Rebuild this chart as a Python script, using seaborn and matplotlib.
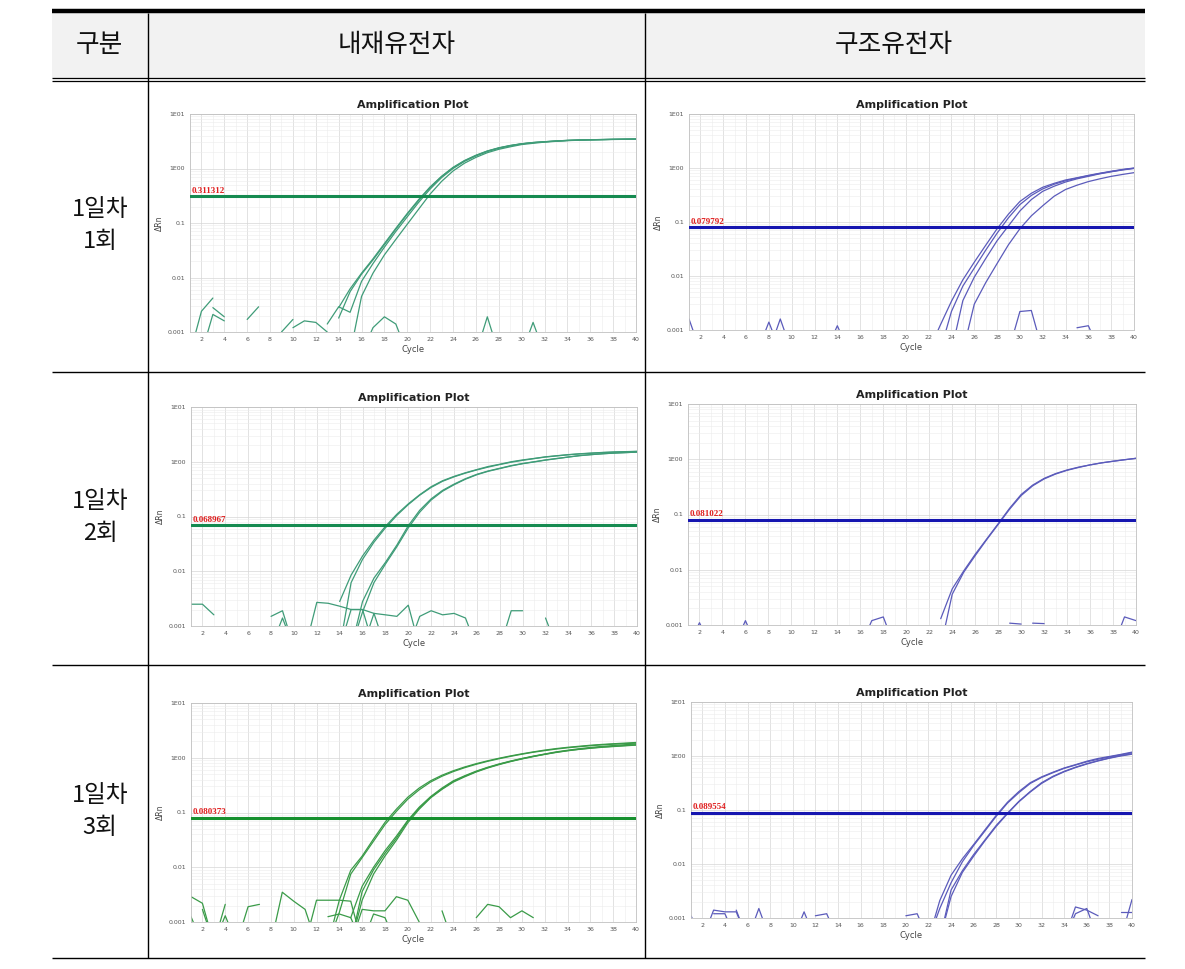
import numpy as np
import pandas as pd
import matplotlib
matplotlib.use("Agg")
import matplotlib.pyplot as plt
import seaborn as sns
from matplotlib.patches import Rectangle
from matplotlib.ticker import FixedLocator, LogLocator, NullFormatter

# ---------------- data ----------------
LOW = 0.0004  # below detection floor (drawn off the bottom of the axis)

header_labels = ["구분", "내재유전자", "구조유전자"]
row_labels = ["1일차\n1회", "1일차\n2회", "1일차\n3회"]
y_tick_values = [0.001, 0.01, 0.1, 1, 10]
y_tick_labels = ["0.001", "0.01", "0.1", "1E00", "1E01"]
x_tick_values = list(range(2, 41, 2))

thresholds = [0.311312, 0.079792, 0.068967, 0.081022, 0.080373, 0.089554]
threshold_labels = ["0.311312", "0.079792", "0.068967", "0.081022", "0.080373", "0.089554"]

# panel 1: 내재유전자, 1회
p1_amp = [
    (14, [0.0028, 0.0062, 0.012, 0.022, 0.042, 0.08, 0.15, 0.27, 0.46, 0.72, 1.05, 1.4, 1.75, 2.1,
          2.4, 2.65, 2.85, 3.0, 3.1, 3.2, 3.28, 3.33, 3.37, 3.4, 3.43, 3.45, 3.47]),
    (14, [0.0018, 0.0055, 0.0115, 0.021, 0.04, 0.077, 0.145, 0.26, 0.45, 0.71, 1.03, 1.38, 1.73, 2.08,
          2.38, 2.63, 2.84, 2.99, 3.1, 3.2, 3.28, 3.33, 3.37, 3.4, 3.43, 3.45, 3.47]),
    (13, [0.0014, 0.0029, 0.0023, 0.0085, 0.018, 0.036, 0.07, 0.13, 0.24, 0.42, 0.68, 1.0, 1.35, 1.7,
          2.05, 2.35, 2.6, 2.82, 2.98, 3.08, 3.18, 3.26, 3.32, 3.36, 3.39, 3.42, 3.44, 3.46]),
    (15, [LOW, 0.0045, 0.012, 0.026, 0.05, 0.095, 0.18, 0.34, 0.58, 0.9, 1.25, 1.6, 1.95, 2.25, 2.5,
          2.75, 2.9, 3.05, 3.15, 3.25, 3.3, 3.35, 3.38, 3.41, 3.43, 3.45]),
]
p1_noise = [
    (1, [LOW, 0.0024, 0.0042]),
    (2, [LOW, 0.0021, 0.0016]),
    (3, [0.0028, 0.0019]),
    (6, [0.0017, 0.0029]),
    (9, [0.001, 0.0017]),
    (10, [0.0012, 0.0016, 0.0015, 0.001]),
    (16, [LOW, 0.0012, 0.0019, 0.0014, LOW]),
    (26, [LOW, 0.0019, LOW]),
    (30, [LOW, 0.0015, LOW]),
]

# panel 2: 구조유전자, 1회
p2_amp = [
    (22, [LOW, 0.0012, 0.0034, 0.0085, 0.018, 0.037, 0.075, 0.14, 0.24, 0.34, 0.44, 0.52, 0.6, 0.66,
          0.73, 0.8, 0.87, 0.94, 1.0]),
    (23, [LOW, 0.0022, 0.0065, 0.014, 0.03, 0.062, 0.12, 0.21, 0.31, 0.41, 0.5, 0.58, 0.65, 0.72,
          0.79, 0.86, 0.93, 0.99]),
    (24, [LOW, 0.0035, 0.0095, 0.021, 0.045, 0.085, 0.16, 0.26, 0.37, 0.46, 0.55, 0.63, 0.7, 0.78,
          0.85, 0.92, 0.98]),
    (25, [LOW, 0.003, 0.0075, 0.017, 0.038, 0.075, 0.13, 0.2, 0.3, 0.4, 0.48, 0.56, 0.63, 0.7,
          0.76, 0.82]),
]
p2_noise = [
    (1, [0.0016, LOW]),
    (7, [LOW, 0.0014, LOW]),
    (8, [LOW, 0.0016, LOW]),
    (13, [LOW, 0.0012, LOW]),
    (29, [LOW, 0.0022, 0.0023, LOW]),
    (35, [0.0011, 0.0012, LOW]),
]

# panel 3: 내재유전자, 2회
p3_amp = [
    (14, [0.0028, 0.0085, 0.019, 0.037, 0.066, 0.11, 0.17, 0.25, 0.35, 0.45, 0.54, 0.63, 0.72, 0.82,
          0.9, 1.0, 1.08, 1.15, 1.23, 1.29, 1.35, 1.4, 1.44, 1.48, 1.51, 1.53, 1.55]),
    (14, [LOW, 0.0062, 0.0165, 0.034, 0.062, 0.105, 0.165, 0.245, 0.34, 0.44, 0.53, 0.62, 0.71, 0.8,
          0.89, 0.98, 1.06, 1.14, 1.22, 1.28, 1.34, 1.39, 1.43, 1.47, 1.5, 1.52, 1.54]),
    (15, [LOW, 0.0028, 0.0075, 0.0145, 0.03, 0.068, 0.13, 0.21, 0.3, 0.39, 0.49, 0.59, 0.68, 0.76,
          0.85, 0.93, 1.0, 1.08, 1.15, 1.22, 1.3, 1.35, 1.4, 1.44, 1.47, 1.5]),
    (15, [LOW, 0.0018, 0.0062, 0.0135, 0.028, 0.062, 0.12, 0.2, 0.29, 0.38, 0.48, 0.58, 0.67, 0.75,
          0.84, 0.92, 0.99, 1.07, 1.14, 1.22, 1.29, 1.35, 1.4, 1.44, 1.47, 1.5]),
]
p3_noise = [
    (1, [0.0025, 0.0025, 0.0016]),
    (8, [0.0015, 0.0019, LOW]),
    (8, [LOW, 0.0014, LOW]),
    (11, [LOW, 0.0027, 0.0026, 0.0023, 0.002, 0.002, 0.0017, 0.0016, 0.0015, 0.0024, LOW]),
    (14, [LOW, 0.002, 0.002, LOW]),
    (16, [LOW, 0.0017, LOW]),
    (20, [LOW, 0.0015, 0.0019, 0.0016, 0.0017, 0.0014, LOW]),
    (28, [LOW, 0.0019, 0.0019]),
    (32, [0.0014, LOW]),
]

# panel 4: 구조유전자, 2회
p4_amp = [
    (23, [0.0013, 0.0045, 0.0095, 0.019, 0.036, 0.068, 0.13, 0.23, 0.34, 0.45, 0.55, 0.64, 0.72,
          0.79, 0.86, 0.92, 0.98, 1.04]),
    (23, [LOW, 0.0036, 0.009, 0.018, 0.035, 0.066, 0.125, 0.22, 0.33, 0.44, 0.54, 0.63, 0.71,
          0.79, 0.86, 0.92, 0.98, 1.04]),
]
p4_noise = [
    (1, [LOW, 0.0011, LOW]),
    (5, [LOW, 0.0012, LOW]),
    (16, [LOW, 0.0012, 0.0014, LOW]),
    (29, [0.00108, 0.00104]),
    (31, [0.00108, 0.00106]),
    (38, [LOW, 0.0014, 0.0012]),
]

# panel 5: 내재유전자, 3회
p5_amp = [
    (13, [LOW, 0.0025, 0.0088, 0.016, 0.033, 0.066, 0.115, 0.19, 0.28, 0.38, 0.48, 0.58, 0.68, 0.78,
          0.88, 0.98, 1.08, 1.18, 1.28, 1.38, 1.47, 1.55, 1.62, 1.69, 1.75, 1.8, 1.85, 1.9]),
    (13, [LOW, 0.0015, 0.0075, 0.015, 0.03, 0.06, 0.105, 0.175, 0.26, 0.36, 0.46, 0.56, 0.66, 0.76,
          0.86, 0.96, 1.06, 1.16, 1.26, 1.35, 1.44, 1.52, 1.59, 1.66, 1.72, 1.77, 1.81, 1.85]),
    (15, [LOW, 0.0036, 0.009, 0.018, 0.034, 0.07, 0.12, 0.19, 0.27, 0.37, 0.46, 0.56, 0.66, 0.76,
          0.86, 0.96, 1.06, 1.16, 1.26, 1.35, 1.43, 1.5, 1.57, 1.62, 1.67, 1.72]),
    (15, [LOW, 0.0025, 0.0075, 0.016, 0.031, 0.065, 0.115, 0.185, 0.265, 0.36, 0.45, 0.55, 0.65,
          0.75, 0.85, 0.95, 1.05, 1.15, 1.25, 1.34, 1.42, 1.49, 1.55, 1.6, 1.65, 1.7]),
    (15, [0.0012, 0.0045, 0.01, 0.02, 0.037, 0.072, 0.125, 0.195, 0.28, 0.38, 0.47, 0.57, 0.67, 0.77,
          0.87, 0.97, 1.07, 1.17, 1.28, 1.37, 1.46, 1.54, 1.61, 1.67, 1.73, 1.78]),
]
p5_noise = [
    (1, [0.0029, 0.0022, LOW, 0.0021]),
    (1, [0.00125, LOW]),
    (2, [0.0017, LOW, 0.0013, LOW]),
    (5, [LOW, 0.0019, 0.0021]),
    (8, [LOW, 0.0035, 0.0024, 0.0017, LOW]),
    (11, [LOW, 0.0025, 0.0025, 0.0025, 0.0024, LOW]),
    (13, [0.00125, 0.0014, 0.0012, LOW]),
    (15, [LOW, 0.0017, 0.0016, 0.0016, 0.0029, 0.0025, 0.001]),
    (16, [LOW, 0.0014, 0.0012, LOW]),
    (23, [0.0016, LOW]),
    (26, [0.0012, 0.0021, 0.0019, 0.0012, 0.0016, 0.0012]),
]

# panel 6: 구조유전자, 3회
p6_amp = [
    (22, [LOW, 0.0021, 0.0062, 0.0125, 0.023, 0.043, 0.08, 0.14, 0.22, 0.32, 0.41, 0.5, 0.6, 0.69,
          0.8, 0.9, 0.98, 1.07, 1.18]),
    (22, [LOW, 0.0015, 0.0045, 0.011, 0.022, 0.041, 0.077, 0.135, 0.21, 0.31, 0.4, 0.49, 0.59, 0.68,
          0.78, 0.87, 0.96, 1.05, 1.15]),
    (23, [LOW, 0.0033, 0.0075, 0.015, 0.028, 0.052, 0.088, 0.145, 0.22, 0.32, 0.42, 0.52, 0.62, 0.72,
          0.82, 0.92, 1.02, 1.1]),
    (23, [LOW, 0.0025, 0.007, 0.014, 0.027, 0.05, 0.086, 0.142, 0.215, 0.31, 0.41, 0.51, 0.61, 0.71,
          0.81, 0.91, 1.0, 1.08]),
]
p6_noise = [
    (1, [0.0011, LOW]),
    (2, [LOW, 0.0014, 0.0013, 0.0013, LOW]),
    (3, [0.0012, 0.0012, LOW]),
    (5, [0.0014, LOW]),
    (6, [LOW, 0.0015, LOW]),
    (10, [LOW, 0.0013, LOW]),
    (12, [0.0011, 0.0012, LOW]),
    (20, [0.0011, 0.0012, LOW]),
    (34, [LOW, 0.0016, 0.0014, 0.0011]),
    (34, [LOW, 0.0012, 0.0015, LOW]),
    (39, [0.0013, 0.0013]),
    (39, [LOW, 0.0022]),
]

panel_traces = [p1_amp + p1_noise, p2_amp + p2_noise, p3_amp + p3_noise,
                p4_amp + p4_noise, p5_amp + p5_noise, p6_amp + p6_noise]

curve_colors = ["#3f9c78", "#5b5bbb", "#3f9c78", "#5b5bbb", "#3a9b48", "#5b5bbb"]
thr_colors = ["#158a50", "#1616b0", "#158a50", "#1616b0", "#16902e", "#1616b0"]

# ---------------- layout (pixels) ----------------
W, H = 1185, 969
axes_px = [  # left, right, top, bottom
    (190, 636, 114, 332), (689, 1134, 114, 330),
    (191, 637, 407, 626), (688, 1136, 404, 625),
    (191, 636, 703, 922), (691, 1132, 702, 918),
]

sns.set_theme(style="white")
plt.rcParams["font.family"] = ["DejaVu Sans"]

fig = plt.figure(figsize=(W / 100, H / 100), dpi=100)
bg = fig.add_axes([0, 0, 1, 1])
bg.set_xlim(0, W)
bg.set_ylim(H, 0)
bg.axis("off")

kfont = ["Noto Sans CJK KR", "DejaVu Sans"]
bg.add_patch(Rectangle((52, 12), 1093, 66, facecolor="#f2f2f2", edgecolor="none"))
bg.plot([52, 1145], [11, 11], color="black", lw=3.2, solid_capstyle="butt")
bg.plot([52, 1145], [78.3, 78.3], color="black", lw=0.9, solid_capstyle="butt")
bg.plot([52, 1145], [81.3, 81.3], color="black", lw=0.9, solid_capstyle="butt")
for yy in (372, 665, 958):
    bg.plot([52, 1145], [yy, yy], color="black", lw=1.0, solid_capstyle="butt")
for xx in (147.5, 645):
    bg.plot([xx, xx], [12.5, 958], color="black", lw=1.0, solid_capstyle="butt")

for cx, lab in zip([99, 397, 894], header_labels):
    bg.text(cx, 45, lab, ha="center", va="center", fontsize=18.5, family=kfont, color="#111111")
for cy, lab in zip([225, 518, 812], row_labels):
    bg.text(100, cy, lab, ha="center", va="center", fontsize=17, family=kfont,
            color="#111111", linespacing=1.5)

for i, (l, r, t, b) in enumerate(axes_px):
    ax = fig.add_axes([l / W, 1 - b / H, (r - l) / W, (b - t) / H])
    ax.set_yscale("log")
    rows = []
    for k, (start, vals) in enumerate(panel_traces[i]):
        for j, v in enumerate(vals):
            rows.append({"cycle": start + j, "value": v, "trace": k})
    df = pd.DataFrame(rows)
    sns.lineplot(data=df, x="cycle", y="value", units="trace", estimator=None,
                 color=curve_colors[i], lw=0.9, ax=ax, legend=False)
    ax.axhline(thresholds[i], color=thr_colors[i], lw=2.2, zorder=4)
    ax.text(1.1, thresholds[i] * 1.07, threshold_labels[i], color="#e01e1e", fontsize=6.5,
            fontweight="bold", family="Liberation Serif", ha="left", va="bottom", zorder=5)
    ax.set_xlim(1, 40)
    ax.set_ylim(0.001, 10)
    ax.yaxis.set_major_locator(FixedLocator(y_tick_values))
    ax.set_yticklabels(y_tick_labels)
    ax.yaxis.set_minor_locator(LogLocator(base=10, subs=np.arange(2, 10)))
    ax.yaxis.set_minor_formatter(NullFormatter())
    ax.set_xticks(x_tick_values)
    ax.xaxis.set_minor_locator(FixedLocator(list(range(1, 41))))
    ax.set_axisbelow(True)
    ax.grid(which="major", color="#d6d6d6", lw=0.5)
    ax.grid(which="minor", color="#ececec", lw=0.4)
    ax.tick_params(axis="both", which="major", labelsize=4.5, colors="#555555", length=1.5,
                   width=0.4, pad=2)
    ax.tick_params(axis="both", which="minor", length=0)
    for sp in ax.spines.values():
        sp.set_color("#c0c0c0")
        sp.set_linewidth(0.6)
    ax.set_title("Amplification Plot", fontsize=8, fontweight="bold", pad=4, color="#222222")
    ax.set_xlabel("Cycle", fontsize=6, labelpad=2, color="#444444")
    ax.set_ylabel("ΔRn", fontsize=5.5, labelpad=3, color="#444444")

fig.savefig("out.png", dpi=100)
